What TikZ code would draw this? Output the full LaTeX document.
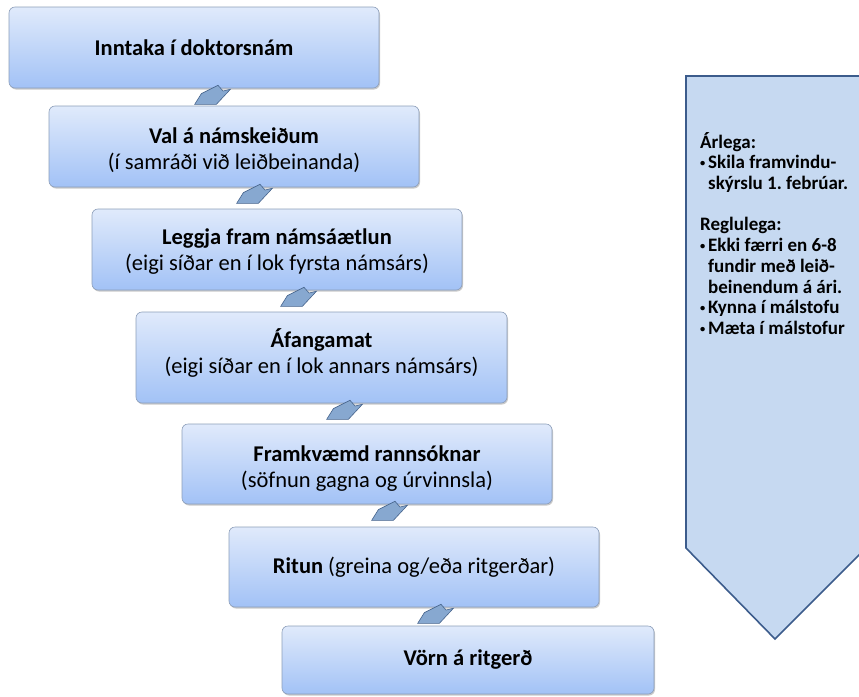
\documentclass[tikz,border=0pt]{standalone}
\usepackage{fontspec}
\setmainfont{Carlito}
\usetikzlibrary{calc,shadows}
\frenchspacing
\definecolor{boxtop}{RGB}{224,234,251}
\definecolor{boxbot}{RGB}{162,194,246}
\definecolor{boxline}{RGB}{140,158,185}
\definecolor{arrfill}{RGB}{135,168,208}
\definecolor{arrline}{RGB}{70,100,140}
\definecolor{panelfill}{RGB}{198,217,241}
\definecolor{panelline}{RGB}{60,92,140}
\newcommand\pbul{\makebox[8pt][l]{\raisebox{0.12em}{\scalebox{0.55}{•}}}}
\newcommand\pind{\hspace*{8pt}}
\tikzset{
  stepbox/.style={rectangle, rounded corners=6pt, draw=boxline, line width=0.6pt,
    top color=boxtop, bottom color=boxbot, inner sep=0pt,
    drop shadow={opacity=0.35, shadow xshift=1pt, shadow yshift=-1.5pt, fill=black!60}},
  boxtext/.style={align=center, inner sep=0pt, font=\fontsize{22.5}{25.5}\selectfont},
  conn/.style={fill=arrfill, draw=arrline, line width=0.6pt, line join=miter},
  panel/.style={fill=panelfill, draw=panelline, line width=1.6pt},
  paneltext/.style={align=left, inner sep=0pt, font=\fontsize{19}{20.7}\selectfont\bfseries}
}
\begin{document}
\begin{tikzpicture}[x=1pt,y=-1pt]
\useasboundingbox (0,0) rectangle (859,696);
% panel
\draw[panel] (686,76) -- (866,76) -- (866,548) -- (775,639) -- (686,548) -- cycle;
\node[paneltext, anchor=north west] (ptxt) at (700,132)
  {Árlega:\\
   \pbul Skila framvindu-\\
   \pind skýrslu 1. febrúar.\\[20.7pt]
   Reglulega:\\
   \pbul Ekki færri en 6-8\\
   \pind fundir með leið-\\
   \pind beinendum á ári.\\
   \pbul Kynna í málstofu\\
   \pbul Mæta í málstofur};
% boxes and arrows
\node[stepbox, minimum width=370pt, minimum height=81pt,
  label={[boxtext]center:\textbf{Inntaka í doktorsnám}}] (b1) at (194,47.5) {};
\coordinate (a1) at ($(b1.south west)+(188,0)$);
\draw[conn, shift={(a1)}] (4.7,5.3) -- (21.3,-3) -- (26.3,2.7) -- (33.7,1) -- (19.7,16) -- (-2,16) -- cycle;
\node[stepbox, minimum width=370pt, minimum height=81pt,
  label={[boxtext, yshift=-3.5pt]center:{\textbf{Val á námskeiðum}\\(í samráði við leiðbeinanda)}}] (b2) at (234,146.5) {};
\coordinate (a2) at ($(b2.south west)+(190,0)$);
\draw[conn, shift={(a2)}] (4.7,5.3) -- (21.3,-3) -- (26.3,2.7) -- (33.7,1) -- (19.7,16) -- (-2,16) -- cycle;
\node[stepbox, minimum width=370pt, minimum height=81pt,
  label={[boxtext, yshift=-2pt]center:{\textbf{Leggja fram námsáætlun}\\(eigi síðar en í lok fyrsta námsárs)}}] (b3) at (277,249.5) {};
\coordinate (a3) at ($(b3.south west)+(191,0)$);
\draw[conn, shift={(a3)}] (4.7,5.3) -- (21.3,-3) -- (26.3,2.7) -- (33.7,1) -- (19.7,16) -- (-2,16) -- cycle;
\node[stepbox, minimum width=371pt, minimum height=91pt,
  label={[boxtext, yshift=4.5pt]center:{\textbf{Áfangamat}\\(eigi síðar en í lok annars námsárs)}}] (b4) at (321.5,357.5) {};
\coordinate (a4) at ($(b4.south west)+(193,0)$);
\draw[conn, shift={(a4)}] (4.7,5.3) -- (21.3,-3) -- (26.3,2.7) -- (33.7,1) -- (19.7,16) -- (-2,16) -- cycle;
\node[stepbox, minimum width=370pt, minimum height=80pt,
  label={[boxtext, yshift=-4.5pt]center:{\textbf{Framkvæmd rannsóknar}\\(söfnun gagna og úrvinnsla)}}] (b5) at (367,464) {};
\coordinate (a5) at ($(b5.south west)+(192,0)$);
\draw[conn, shift={(a5)}] (4.7,5.3) -- (21.3,-3) -- (26.3,2.7) -- (33.7,1) -- (19.7,16) -- (-2,16) -- cycle;
\node[stepbox, minimum width=370pt, minimum height=80pt,
  label={[boxtext]center:{\textbf{Ritun} (greina og/eða ritgerðar)}}] (b6) at (414,567) {};
\coordinate (a6) at ($(b6.south west)+(191,0)$);
\draw[conn, shift={(a6)}] (4.7,5.3) -- (21.3,-3) -- (26.3,2.7) -- (33.7,1) -- (19.7,16) -- (-2,16) -- cycle;
\node[stepbox, minimum width=372pt, minimum height=68pt,
  label={[boxtext]center:\textbf{Vörn á ritgerð}}] (b7) at (468,660) {};
\end{tikzpicture}
\end{document}
